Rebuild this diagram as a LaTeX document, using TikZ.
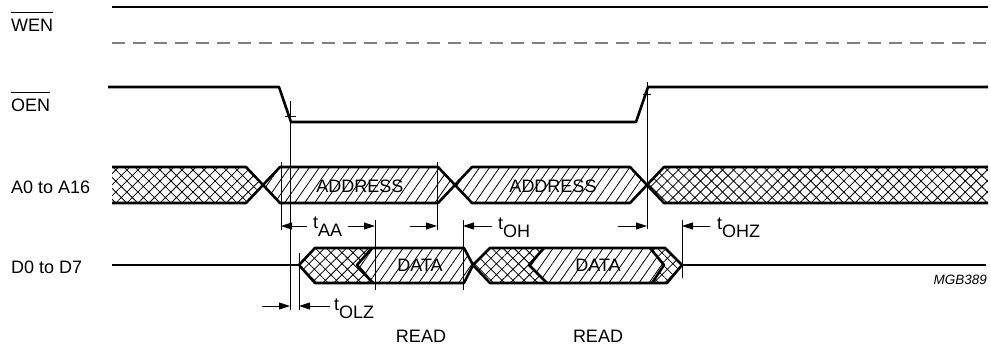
\documentclass[tikz,border=0pt]{standalone}
\usepackage{fontspec}
\setmainfont{Liberation Sans}
\usetikzlibrary{arrows.meta,patterns.meta}
\begin{document}
\begin{tikzpicture}[x=1pt,y=-1pt,
  lbl/.style={inner sep=0pt,font=\fontsize{18}{21}\selectfont},
  tag/.style={inner sep=0pt,font=\fontsize{13.5}{16}\selectfont\itshape},
  sig/.style={line width=2.6pt,line join=round},
  dsh/.style={line width=1.8pt,black!50,dash pattern=on 13pt off 8pt},
  ovl/.style={line width=1.1pt},
  thinline/.style={line width=0.9pt},
  arr/.style={line width=0.9pt,-{Triangle[length=11pt,width=7pt]}},
  xh/.style={pattern={Hatch[angle=45,distance=7.8pt,line width=0.8pt]}},
  ln/.style={pattern={Lines[angle=55,distance=8.2pt,line width=0.8pt]}}]
\useasboundingbox (0,0) rectangle (991,352);

% WEN
\draw[sig] (112,7) -- (988,7);
\draw[dsh] (112,43) -- (988,43);
\node[lbl,anchor=base west] (wen) at (11,32) {WEN};
\draw[ovl] ([yshift=7pt]wen.north west) -- ([yshift=7pt]wen.north east);

% OEN
\draw[sig] (108,87) -- (279,87) -- (291,122) -- (636,122) -- (648,87) -- (988,87);
\node[lbl,anchor=base west] (oen) at (11,112) {OEN};
\draw[ovl] ([yshift=6.5pt]oen.north west) -- ([yshift=6.5pt]oen.north east);

% A bus
\node[lbl,anchor=base west] (alab) at (11,194) {A0 to A16};
\fill[xh] (112,167) -- (246,167) -- (263,185) -- (246,203) -- (112,203) -- cycle;
\fill[ln] (263,185) -- (280,167) -- (438,167) -- (455,185) -- (438,203) -- (280,203) -- cycle;
\fill[ln] (455,185) -- (472,167) -- (630,167) -- (647,185) -- (630,203) -- (472,203) -- cycle;
\fill[xh] (647,185) -- (664,167) -- (988,167) -- (988,203) -- (664,203) -- cycle;
\draw[sig] (112,167) -- (246,167) -- (280,203) -- (438,203) -- (472,167) -- (630,167) -- (664,203) -- (988,203);
\draw[sig] (112,203) -- (246,203) -- (280,167) -- (438,167) -- (472,203) -- (630,203) -- (664,167) -- (988,167);
\node[lbl,anchor=base] (addr1) at (360,193) {ADDRESS};
\node[lbl,anchor=base] (addr2) at (553,193) {ADDRESS};

% D bus
\node[lbl,anchor=base west] (dlab) at (11,274) {D0 to D7};
\fill[xh] (299,265) -- (315,248) -- (372,248) -- (357,265) -- (373,283) -- (315,283) -- cycle;
\fill[ln] (372,248) -- (464,248) -- (473,265) -- (464,283) -- (373,283) -- (357,265) -- cycle;
\fill[xh] (473,265) -- (490,248) -- (544,248) -- (529,265) -- (547,283) -- (490,283) -- cycle;
\fill[ln] (544,248) -- (650,248) -- (664,265) -- (652,283) -- (547,283) -- (529,265) -- cycle;
\fill[xh] (650,248) -- (665,248) -- (682,265) -- (667,283) -- (652,283) -- (664,265) -- cycle;
\draw[sig] (112,265) -- (299,265);
\draw[sig] (299,265) -- (315,248) -- (464,248) -- (473,265) -- (490,248) -- (665,248) -- (682,265) -- (667,283) -- (490,283) -- (473,265) -- (464,283) -- (315,283) -- cycle;
\draw[sig] (682,265) -- (986,265);
\draw[sig] (372,248) -- (357,265) -- (373,283);
\draw[sig] (544,248) -- (529,265) -- (547,283);
\draw[sig] (650,248) -- (664,265) -- (652,283);
\node[lbl,anchor=base] (data1) at (420,272) {DATA};
\node[lbl,anchor=base] (data2) at (598,272) {DATA};

% marker lines
\coordinate (m1t) at (290,101); \coordinate (m1b) at (290,310);
\draw[thinline] (m1t) -- (m1b);
\draw[thinline] (285,116) -- (296,116);
\coordinate (m2t) at (647,82); \coordinate (m2b) at (647,229);
\draw[thinline] (m2t) -- (m2b);
\draw[thinline] (643,94) -- (651,94);
\draw[thinline] (281,162) -- (281,230);
\draw[thinline] (437,162) -- (437,230);
\draw[thinline] (375,220) -- (375,290);
\draw[thinline] (463,220) -- (463,290);
\draw[thinline] (299,253) -- (299,310);
\draw[thinline] (682,220) -- (682,278);

% arrows
\draw[arr] (307,226) -- (281,226);
\draw[arr] (348,226) -- (375,226);
\draw[arr] (410,226) -- (437,226);
\draw[arr] (492,226) -- (463,226);
\draw[arr] (618,226) -- (647,226);
\draw[arr] (710,226) -- (682,226);
\draw[arr] (262,306) -- (290,306);
\draw[arr] (330,306) -- (299,306);

% timing labels
\node[lbl,anchor=base west] (taa) at (313,229) {t\raisebox{-8pt}{AA}};
\node[lbl,anchor=base west] (toh) at (498,230) {t\raisebox{-8pt}{OH}};
\node[lbl,anchor=base west] (tohz) at (717,230) {t\raisebox{-8pt}{OHZ}};
\node[lbl,anchor=base west] (tolz) at (334,311) {t\raisebox{-8pt}{OLZ}};

% READ labels
\node[lbl,anchor=base] (read1) at (421,343) {READ};
\node[lbl,anchor=base] (read2) at (598,343) {READ};

\node[tag,anchor=base east] (fig) at (987,285) {MGB389};
\end{tikzpicture}
\end{document}
